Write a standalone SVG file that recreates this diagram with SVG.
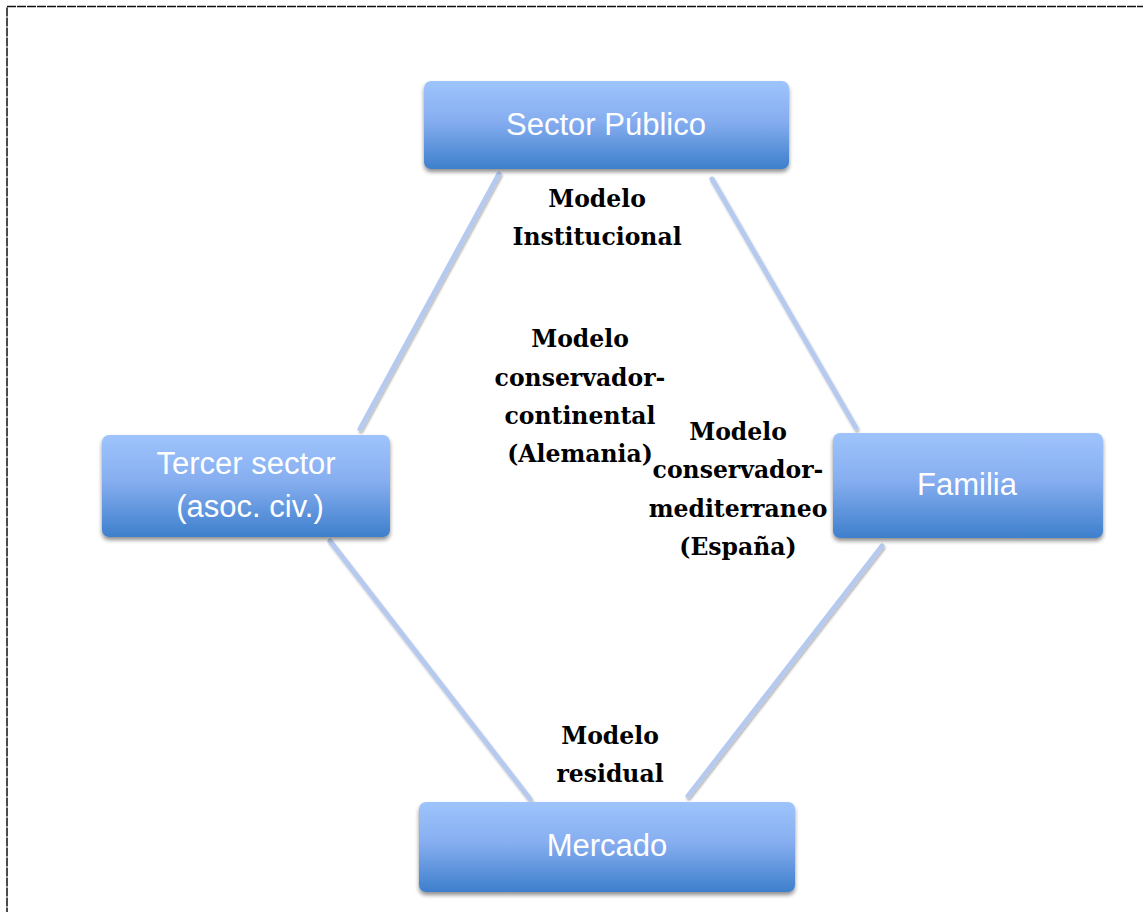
<svg xmlns="http://www.w3.org/2000/svg" width="1143" height="912" viewBox="0 0 1143 912">
<style>
.box{fill:url(#boxGrad);filter:url(#shadow)}
.btxt{font-family:"Liberation Sans",Arial,sans-serif;font-size:31px;fill:#ffffff;text-anchor:middle}
.lbl{font-family:"DejaVu Serif","Liberation Serif",serif;font-weight:bold;font-size:23.5px;fill:#000;text-anchor:middle}
.conn{stroke:#b5caee;stroke-width:5;stroke-linecap:round;fill:none;filter:url(#lshadow)}
</style>
<defs>
<linearGradient id="boxGrad" x1="0" y1="0" x2="0" y2="1">
<stop offset="0" stop-color="#9fc4fc"/>
<stop offset="0.45" stop-color="#86aef0"/>
<stop offset="1" stop-color="#3e7fcc"/>
</linearGradient>
<filter id="shadow" x="-10%" y="-10%" width="120%" height="130%">
<feGaussianBlur in="SourceAlpha" stdDeviation="2.2"/>
<feOffset dx="0" dy="3" result="b"/>
<feComponentTransfer><feFuncA type="linear" slope="0.45"/></feComponentTransfer>
<feMerge><feMergeNode/><feMergeNode in="SourceGraphic"/></feMerge>
</filter>
<filter id="lshadow" x="-20%" y="-20%" width="140%" height="140%">
<feGaussianBlur in="SourceAlpha" stdDeviation="1.2"/>
<feOffset dx="1" dy="2" result="b"/>
<feComponentTransfer><feFuncA type="linear" slope="0.3"/></feComponentTransfer>
<feMerge><feMergeNode/><feMergeNode in="SourceGraphic"/></feMerge>
</filter>
</defs>
<rect x="0" y="0" width="1143" height="912" fill="#ffffff"/>
<rect x="7" y="6.5" width="1200" height="1000" fill="none" stroke="#111111" stroke-width="1.5" stroke-dasharray="9 1"/>
<g id="connectors">
<line class="conn" x1="499" y1="174" x2="360" y2="429"/>
<line class="conn" x1="712" y1="179" x2="856" y2="428"/>
<line class="conn" x1="330" y1="541" x2="530" y2="799"/>
<line class="conn" x1="882" y1="546" x2="688" y2="796"/>
</g>
<g id="sector-publico">
<rect class="box" x="424" y="81" width="365" height="88" rx="7"/>
<text class="btxt" x="606" y="135">Sector Público</text>
</g>
<g id="tercer-sector">
<rect class="box" x="102" y="435" width="288" height="102" rx="7"/>
<text class="btxt" x="246" y="474">Tercer sector</text>
<text class="btxt" x="250" y="517">(asoc. civ.)</text>
</g>
<g id="familia">
<rect class="box" x="833" y="433" width="270" height="105" rx="7"/>
<text class="btxt" x="967" y="495">Familia</text>
</g>
<g id="mercado">
<rect class="box" x="419" y="802" width="376" height="90" rx="7"/>
<text class="btxt" x="607" y="856">Mercado</text>
</g>
<g id="labels">
<text class="lbl" x="597" y="207">Modelo</text>
<text class="lbl" x="597" y="245">Institucional</text>
<text class="lbl" x="580" y="347">Modelo</text>
<text class="lbl" x="580" y="386">conservador-</text>
<text class="lbl" x="580" y="424">continental</text>
<text class="lbl" x="580" y="462">(Alemania)</text>
<text class="lbl" x="738" y="440">Modelo</text>
<text class="lbl" x="738" y="478">conservador-</text>
<text class="lbl" x="738" y="517">mediterraneo</text>
<text class="lbl" x="738" y="555">(España)</text>
<text class="lbl" x="610" y="744">Modelo</text>
<text class="lbl" x="610" y="782">residual</text>
</g>
</svg>
